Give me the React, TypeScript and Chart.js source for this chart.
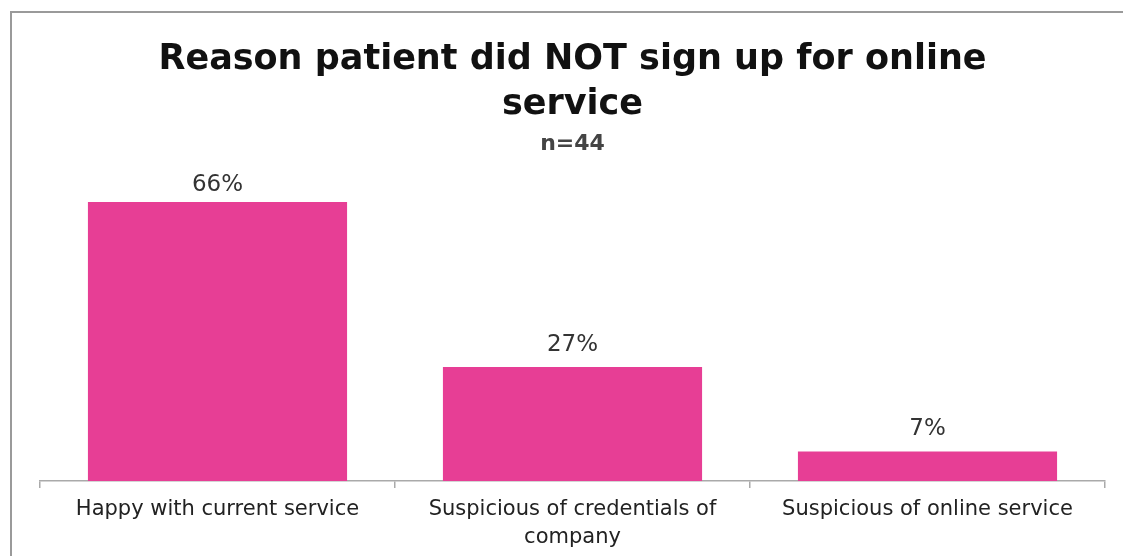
import React, { useEffect, useRef } from "react";
import { Chart, registerables } from "chart.js";

Chart.register(...registerables);

const categories: (string | string[])[] = [
  "Happy with current service",
  ["Suspicious of credentials of", "company"],
  "Suspicious of online service",
];
const values = [66, 27, 7];
const valueLabels = ["66%", "27%", "7%"];
const titleLines = ["Reason patient did NOT sign up for online", "service"];
const subtitleText = "n=44";

const FONT = "'DejaVu Sans', 'Open Sans', sans-serif";

const dataLabelPlugin = {
  id: "dataLabels",
  afterDatasetsDraw(chart: any) {
    const ctx = chart.ctx;
    const meta = chart.getDatasetMeta(0);
    ctx.save();
    ctx.font = `23px ${FONT}`;
    ctx.fillStyle = "#333333";
    ctx.textAlign = "center";
    ctx.textBaseline = "middle";
    meta.data.forEach((bar: any, i: number) => {
      const y = Math.max(bar.y - 22, chart.chartArea.top);
      ctx.fillText(valueLabels[i], bar.x, y);
    });
    ctx.restore();
  },
};

export default function App() {
  const ref = useRef<HTMLCanvasElement | null>(null);
  useEffect(() => {
    document.body.style.margin = "0";
    document.body.style.overflow = "hidden";
    if (!ref.current) return;
    const chart = new Chart(ref.current, {
      type: "bar",
      data: {
        labels: categories,
        datasets: [
          {
            data: values,
            backgroundColor: "#E73E95",
            borderWidth: 0,
            barPercentage: 0.73,
            categoryPercentage: 1,
          },
        ],
      },
      options: {
        animation: false,
        responsive: false,
        devicePixelRatio: 1,
        layout: { padding: { left: 40, right: 18, top: 10, bottom: -3 } },
        plugins: {
          legend: { display: false },
          tooltip: { enabled: false },
          title: {
            display: true,
            text: titleLines,
            color: "#111111",
            font: { family: FONT, size: 35, weight: "bold", lineHeight: 1.286 },
            padding: { top: 27, bottom: 4 },
          },
          subtitle: {
            display: true,
            text: subtitleText,
            color: "#444444",
            font: { family: FONT, size: 22, weight: "bold", lineHeight: 1.1 },
            padding: { top: 1, bottom: 29 },
          },
        },
        scales: {
          x: {
            offset: true,
            grid: {
              display: true,
              drawOnChartArea: false,
              drawTicks: true,
              tickLength: 7,
              color: "#aaaaaa",
              lineWidth: 1.5,
            },
            border: { display: true, color: "#aaaaaa", width: 1.5 },
            ticks: {
              color: "#222222",
              font: { family: FONT, size: 21, lineHeight: 1.31 },
              padding: 8,
              maxRotation: 0,
              autoSkip: false,
            },
          },
          y: {
            display: false,
            min: 0,
            max: 70,
          },
        },
      },
      plugins: [dataLabelPlugin],
    });
    return () => chart.destroy();
  }, []);
  return (
    <div style={{ position: "relative", width: 1123, height: 556, background: "#fff", overflow: "hidden" }}>
      <div
        style={{
          position: "absolute",
          left: 10,
          top: 11,
          right: -10,
          bottom: -10,
          borderLeft: "2px solid #9a9a9a",
          borderTop: "2px solid #9a9a9a",
          pointerEvents: "none",
        }}
      />
      <canvas ref={ref} width={1123} height={556} style={{ position: "absolute", left: 0, top: 0 }} />
    </div>
  );
}
